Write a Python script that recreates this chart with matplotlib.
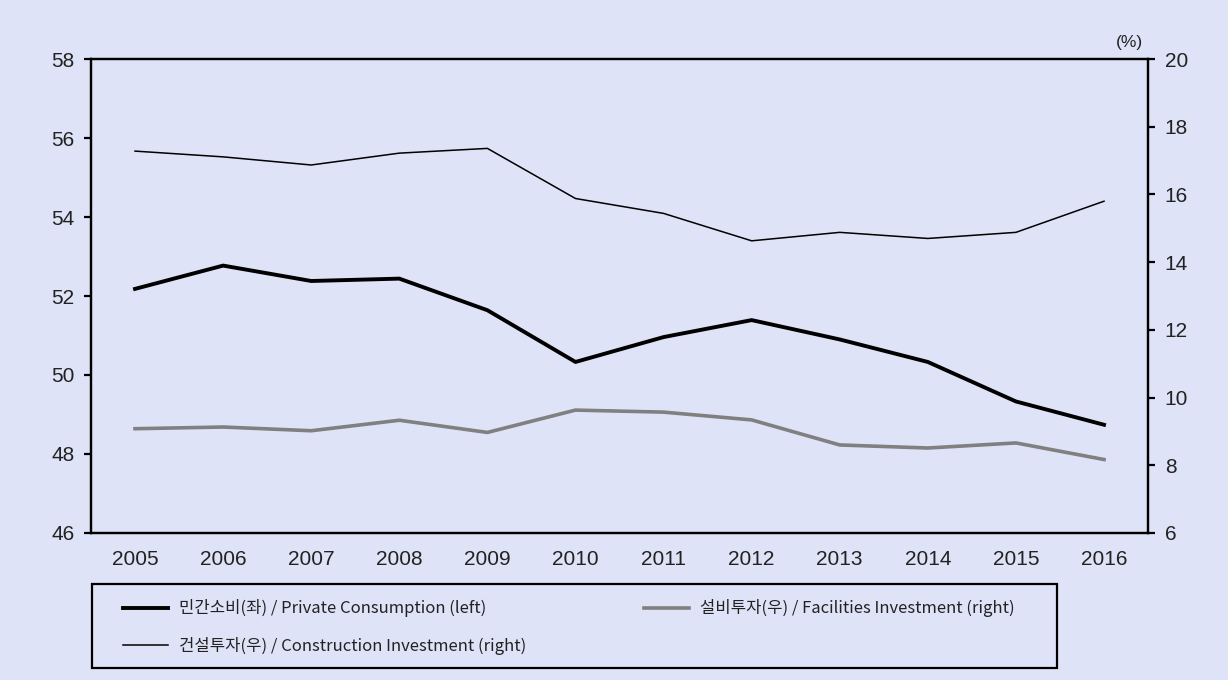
import matplotlib

matplotlib.use("Agg")
import matplotlib.pyplot as plt
from matplotlib.lines import Line2D
from matplotlib.patches import Rectangle

plt.rcParams["font.family"] = ["Liberation Sans", "DejaVu Sans"]

years = ["2005", "2006", "2007", "2008", "2009", "2010",
         "2011", "2012", "2013", "2014", "2015", "2016"]
private_consumption = [52.18, 52.77, 52.38, 52.44, 51.64, 50.33,
                       50.96, 51.39, 50.90, 50.33, 49.33, 48.74]
construction_invest = [17.28, 17.11, 16.87, 17.22, 17.36, 15.88,
                       15.44, 14.63, 14.88, 14.70, 14.88, 15.80]
facilities_invest = [9.08, 9.13, 9.02, 9.33, 8.97, 9.63,
                     9.57, 9.34, 8.60, 8.51, 8.66, 8.17]

labels = [
    "민간소비(좌) / Private Consumption (left)",
    "건설투자(우) / Construction Investment (right)",
    "설비투자(우) / Facilities Investment (right)",
]

BG = "#dfe3f7"
TXT = "#222222"

fig = plt.figure(figsize=(12.28, 6.8), dpi=100, facecolor=BG)
ax = fig.add_axes([0.0741, 0.2162, 0.8608, 0.6970], facecolor=BG)
ax2 = ax.twinx()

x = range(len(years))
ax.plot(x, private_consumption, color="black", lw=2.8, zorder=3)
ax2.plot(x, construction_invest, color="black", lw=1.1)
ax2.plot(x, facilities_invest, color="#808080", lw=2.6)

ax.set_xlim(-0.5, len(years) - 0.5)
ax.set_ylim(46, 58)
ax.set_yticks(range(46, 59, 2))
ax2.set_ylim(6, 20)
ax2.set_yticks(range(6, 21, 2))
ax.set_xticks(list(x))
ax.set_xticklabels(years)

for a in (ax, ax2):
    for s in a.spines.values():
        s.set_linewidth(1.6)
        s.set_color("black")
    a.tick_params(axis="y", direction="out", length=5, width=1.6,
                  labelsize=15, colors="black", labelcolor=TXT, pad=7)
ax.tick_params(axis="x", length=0, labelsize=15, labelcolor=TXT, pad=12)

fig.text(0.920, 0.9368, "(%)", fontsize=12.5, ha="center", va="center", color=TXT)

# legend: frameless legend inside a hand-placed box
fig.patches.append(Rectangle((0.0749, 0.0176), 0.786, 0.1234, transform=fig.transFigure,
                             facecolor="none", edgecolor="black", lw=1.6))
handles = [
    Line2D([], [], color="black", lw=2.8),
    Line2D([], [], color="black", lw=1.1),
    Line2D([], [], color="#808080", lw=2.6),
]
leg = fig.legend(
    handles, labels, ncol=2, loc="center left",
    bbox_to_anchor=(0.1002, 0.0779, 0.7264, 0), mode="expand",
    frameon=False,
    prop={"family": ["Noto Sans CJK KR", "DejaVu Sans"], "size": 12},
    handlelength=2.7, handletextpad=0.66, borderpad=0, labelspacing=1.15,
    borderaxespad=0,
)
for t in leg.get_texts():
    t.set_color(TXT)

fig.savefig("out.png", dpi=100, facecolor=BG)
